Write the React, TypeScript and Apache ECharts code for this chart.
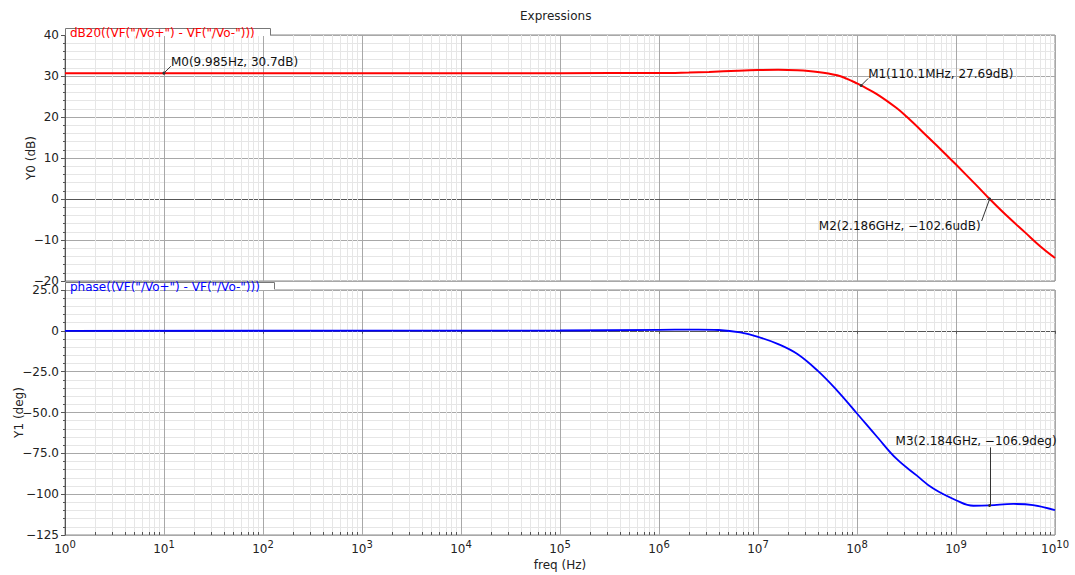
import React, { useEffect, useRef } from "react";
import * as echarts from "echarts";

// ---------- data ----------
const magFreqHz = [1, 1e5, 1e6, 2e6, 3.2e6, 6.3e6, 1e7, 1.6e7, 2.5e7, 4e7, 6.3e7, 7.94e7, 1e8, 1.101e8, 1.585e8, 2.512e8, 3.162e8, 5.012e8, 7.943e8, 1e9, 1.585e9, 2.186e9, 3.162e9, 5.012e9, 7.079e9, 1e10];
const magDb = [30.7, 30.7, 30.72, 30.85, 31.0, 31.3, 31.45, 31.5, 31.4, 31.0, 30.2, 29.3, 28.2, 27.69, 25.6, 22.2, 20.1, 15.5, 10.8, 8.4, 3.5, 0, -3.8, -8.2, -11.5, -14.4];

const phaseFreqHz = [1, 1e5, 1e6, 2.5e6, 4e6, 6.6e6, 1e7, 1.6e7, 2.5e7, 4e7, 6.3e7, 1e8, 1.6e8, 2.5e8, 4e8, 5.9e8, 1e9, 1.5e9, 2.184e9, 3.8e9, 6e9, 1e10];
const phaseDeg = [0, 0.2, 0.6, 0.8, 0.5, -1.0, -3.7, -8.1, -14.2, -24.4, -36.6, -50.6, -65, -78.3, -88.5, -96.6, -103.7, -107.1, -106.9, -106.0, -106.7, -109.8];

const decadeExponents = [0, 1, 2, 3, 4, 5, 6, 7, 8, 9];
const minorMultipliers = [2, 3, 4, 5, 6, 7, 8, 9];

const magRange = { min: -20, max: 40, interval: 10 };
const phaseRange = { min: -125, max: 25, interval: 25 };

const magLabel = 'dB20((VF("/Vo+") - VF("/Vo-")))';
const phaseLabel = 'phase((VF("/Vo+") - VF("/Vo-")))';

const markers = [
  { freq: 9.985, value: 30.7, text: "M0(9.985Hz, 30.7dB)", panel: 0, kind: "upRight" },
  { freq: 110.1e6, value: 27.69, text: "M1(110.1MHz, 27.69dB)", panel: 0, kind: "upRight" },
  { freq: 2.186e9, value: -102.6e-6, text: "M2(2.186GHz, \u2212102.6udB)", panel: 0, kind: "downLeft" },
  { freq: 2.184e9, value: -106.9, text: "M3(2.184GHz, \u2212106.9deg)", panel: 1, kind: "up" },
];

// ---------- styling ----------
const FONT = "DejaVu Sans";
const RED = "#ff0000";
const BLUE = "#0000ff";
const MAJOR = "#a8a8a8";
const MINOR = "#e6e6e6";
const AXIS = "#555555";

const lg = (f: number) => Math.log10(f);
const minus = (s: string) => s.replace("-", "\u2212");

const minorLogs: number[][] = [];
decadeExponents.forEach((e) => minorMultipliers.forEach((m) => minorLogs.push([lg(m * Math.pow(10, e)), 0])));

function minorGridSeries(idx: number, range: { min: number; max: number }, ticks: boolean) {
  return {
    type: "custom",
    xAxisIndex: idx,
    yAxisIndex: idx,
    z: 1,
    silent: true,
    data: minorLogs,
    encode: { x: 0, y: 1 },
    renderItem: (_p: any, api: any) => {
      const x = api.value(0);
      const top = api.coord([x, range.max]);
      const bot = api.coord([x, range.min]);
      const cx = Math.round(top[0]) + 0.5;
      const children: any[] = [
        { type: "line", shape: { x1: cx, y1: top[1], x2: cx, y2: bot[1] }, style: { stroke: MINOR, lineWidth: 1 } },
      ];
      if (ticks) {
        children.push({ type: "line", shape: { x1: cx, y1: bot[1], x2: cx, y2: bot[1] - 3 }, style: { stroke: AXIS, lineWidth: 1 } });
      }
      return { type: "group", children };
    },
  };
}

function xAxisCfg(idx: number, showLabels: boolean) {
  return {
    type: "value",
    gridIndex: idx,
    min: 0,
    max: 10,
    interval: 1,
    axisLine: { show: true, lineStyle: { color: AXIS } },
    axisTick: { show: showLabels, length: 3, lineStyle: { color: AXIS } },
    splitLine: { show: true, lineStyle: { color: MAJOR, width: 1 } },
    axisLabel: showLabels
      ? {
          show: true,
          margin: 4,
          formatter: (v: number) => `{b|10}{s|${v}}`,
          rich: {
            b: { fontFamily: FONT, fontSize: 12, color: "#222" },
            s: { fontFamily: FONT, fontSize: 10, color: "#222", padding: [0, 0, 9, 0] },
          },
        }
      : { show: false },
    name: showLabels ? "freq (Hz)" : "",
    nameLocation: "middle",
    nameGap: 24,
    nameMoveOverlap: false,
    nameTextStyle: { fontFamily: FONT, fontSize: 12, color: "#222" },
  };
}

function yAxisCfg(idx: number, range: { min: number; max: number; interval: number }, name: string, nameGap: number, fmt: (v: number) => string) {
  return {
    type: "value",
    gridIndex: idx,
    min: range.min,
    max: range.max,
    interval: range.interval,
    name,
    nameLocation: "middle",
    nameGap,
    nameMoveOverlap: false,
    nameTextStyle: { fontFamily: FONT, fontSize: 12, color: "#222" },
    axisLine: { show: true, lineStyle: { color: AXIS } },
    axisTick: { show: true, length: 4, lineStyle: { color: AXIS } },
    minorTick: { show: true, splitNumber: 5, length: 2, lineStyle: { color: AXIS } },
    splitLine: { show: true, lineStyle: { color: MAJOR, width: 1 } },
    minorSplitLine: { show: true, lineStyle: { color: MINOR, width: 1 } },
    axisLabel: { fontFamily: FONT, fontSize: 12, color: "#222", margin: 6, formatter: fmt },
  };
}

const magFmt = (v: number) => minus(String(v));
const phaseFmt = (v: number) => (v === 0 ? "0" : Math.abs(v) >= 100 ? minus(String(v)) : minus(v.toFixed(1)));

const gridBase = { left: 65, width: 990, show: true, borderColor: "#888", borderWidth: 1, backgroundColor: "#fff", containLabel: false, outerBoundsMode: "none" };

const option: any = {
  animation: false,
  backgroundColor: "#ffffff",
  title: {
    text: "Expressions",
    left: 515,
    top: 5,
    textStyle: { fontFamily: FONT, fontSize: 12, fontWeight: "normal", color: "#222" },
  },
  grid: [
    { ...gridBase, top: 35, height: 246 },
    { ...gridBase, top: 290, height: 245 },
  ],
  xAxis: [xAxisCfg(0, false), xAxisCfg(1, true)],
  yAxis: [yAxisCfg(0, magRange, "Y0 (dB)", 28, magFmt), yAxisCfg(1, phaseRange, "Y1 (deg)", 40, phaseFmt)],
  series: [
    minorGridSeries(0, magRange, false),
    minorGridSeries(1, phaseRange, true),
    {
      type: "line",
      name: magLabel,
      xAxisIndex: 0,
      yAxisIndex: 0,
      z: 3,
      showSymbol: false,
      smooth: 0.4,
      lineStyle: { color: RED, width: 2 },
      data: magFreqHz.map((f, i) => [lg(f), magDb[i]]),
    },
    {
      type: "line",
      name: phaseLabel,
      xAxisIndex: 1,
      yAxisIndex: 1,
      z: 3,
      showSymbol: false,
      smooth: 0.4,
      lineStyle: { color: BLUE, width: 1.8 },
      data: phaseFreqHz.map((f, i) => [lg(f), phaseDeg[i]]),
    },
  ],
};

function textEl(text: string, x: number, y: number, color: string, align: string) {
  return {
    type: "text",
    z: 20,
    silent: true,
    style: {
      text,
      x,
      y,
      fill: color,
      font: `12px "${FONT}"`,
      fontFamily: FONT,
      fontSize: 12,
      textAlign: align,
      align,
      textVerticalAlign: "middle",
      verticalAlign: "middle",
    },
  };
}

function tab(x: number, y: number, w: number, h: number, label: string, color: string) {
  return [
    { type: "rect", z: 15, silent: true, shape: { x, y, width: w, height: h }, style: { fill: "#fff" } },
    { type: "polyline", z: 16, silent: true, shape: { points: [[x + 0.5, y + h], [x + 0.5, y + 0.5], [x + w + 0.5, y + 0.5], [x + w + 0.5, y + h - 1]] }, style: { stroke: "#777", fill: null, lineWidth: 1 } },
    textEl(label, x + 5, y + 5, color, "left"),
  ];
}

export default function App() {
  const ref = useRef<HTMLDivElement>(null);
  useEffect(() => {
    const chart = echarts.init(ref.current as HTMLDivElement, null, { renderer: "svg" });
    chart.setOption(option);

    const graphics: any[] = [
      ...tab(65, 28, 205, 8, magLabel, RED),
      ...tab(65, 282, 209, 8, phaseLabel, BLUE),
    ];

    markers.forEach((m) => {
      const p = chart.convertToPixel({ xAxisIndex: m.panel, yAxisIndex: m.panel }, [lg(m.freq), m.value]) as number[];
      const [px, py] = p;
      graphics.push({ type: "circle", z: 21, silent: true, shape: { cx: px, cy: py, r: 1.5 }, style: { fill: "#333" } });
      if (m.kind === "upRight") {
        graphics.push({ type: "line", z: 21, silent: true, shape: { x1: px, y1: py, x2: px + 7, y2: py - 7 }, style: { stroke: "#333", lineWidth: 1 } });
        graphics.push(textEl(m.text, px + 7, py - 11, "#111", "left"));
      } else if (m.kind === "downLeft") {
        graphics.push({ type: "line", z: 21, silent: true, shape: { x1: px, y1: py, x2: px - 8, y2: py + 22 }, style: { stroke: "#333", lineWidth: 1 } });
        graphics.push(textEl(m.text, px - 9, py + 27, "#111", "right"));
      } else {
        graphics.push({ type: "line", z: 21, silent: true, shape: { x1: Math.round(px) + 0.5, y1: py - 58, x2: Math.round(px) + 0.5, y2: py }, style: { stroke: "#333", lineWidth: 1 } });
        graphics.push(textEl(m.text, px + 67, py - 64, "#111", "right"));
      }
    });

    chart.setOption({ graphic: graphics });
    return () => chart.dispose();
  }, []);
  return <div ref={ref} style={{ position: "fixed", left: 0, top: 0, width: 1075, height: 575 }} />;
}
